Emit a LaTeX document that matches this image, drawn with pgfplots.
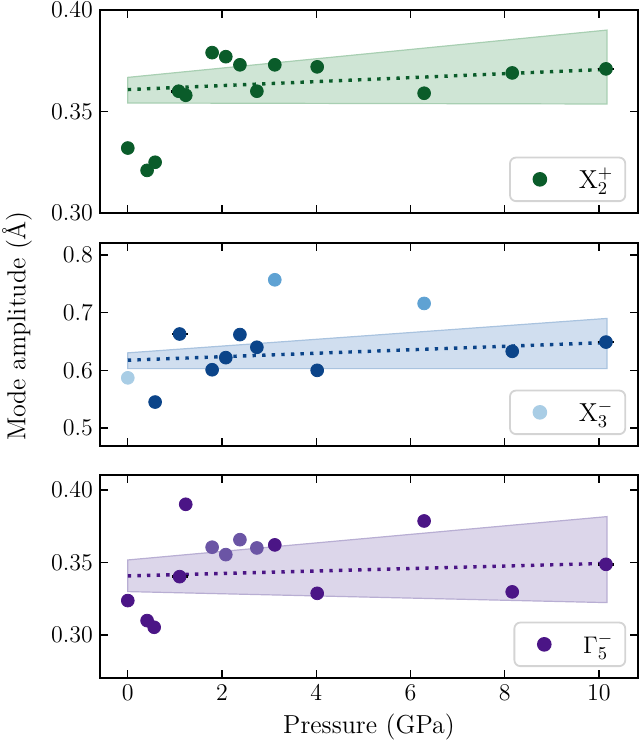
\documentclass[border=0pt]{standalone}
\usepackage{pgfplots}
\pgfplotsset{compat=1.18}
\definecolor{gdark}{HTML}{0A5C2A}
\definecolor{gfill}{HTML}{CFE5D5}
\definecolor{gedge}{HTML}{A8CFB2}
\definecolor{bdark}{HTML}{0B4489}
\definecolor{bmed}{HTML}{5FA2D3}
\definecolor{blight}{HTML}{A9CDE5}
\definecolor{bfill}{HTML}{D0DEEF}
\definecolor{bedge}{HTML}{A9C3DF}
\definecolor{pdark}{HTML}{4B1586}
\definecolor{pmed}{HTML}{6B55A5}
\definecolor{pfill}{HTML}{DCD6EA}
\definecolor{pedge}{HTML}{B8AED3}
\newcommand{\fs}{\fontsize{13}{15}\selectfont}
\pgfplotsset{
  panel/.style={
    at={(50pt,#1)}, anchor=north west,
    scale only axis, width=269pt, height=101.5pt,
    xmin=-0.59, xmax=10.83,
    xtick={0,2,...,10},
    tick align=inside, xtick pos=both, ytick pos=both,
    major tick length=4pt,
    every tick/.style={black, line width=0.7pt},
    axis line style={line width=0.8pt},
    tick label style={font=\fs},
    label style={font=\fs},
    legend style={at={(rel axis cs:0.978,0.054)}, anchor=south east,
      draw=black!17, line width=0.9pt, rounded corners=3pt, fill=white,
      inner xsep=4pt, inner ysep=3pt, font=\fs,
      nodes={inner sep=2pt}},
    legend image code/.code={\path (0pt,0pt) (27.5pt,0pt);
      \draw[##1] plot coordinates {(10.5pt,0pt)};},
  },
  mk/.style={only marks, mark=*, mark size=3.2pt, draw=#1, fill=#1, mark options={draw=#1, fill=#1}},
  fit/.style={#1, line width=1.7pt, dash pattern=on 1.7pt off 3.1pt},
  band/.style={fill=#1fill, draw=#1edge, line width=0.6pt},
  eb/.style={only marks, mark=none, forget plot, error bars/.cd, x dir=both, x explicit, error mark=none,
     error bar style={black, line width=1.3pt}},
}
\begin{document}
\begin{tikzpicture}
\useasboundingbox (0,0) rectangle (320pt,-372pt);
% ---------- panel 1
\begin{axis}[panel=-5pt, ymin=0.30, ymax=0.40, ytick={0.30,0.35,0.40},
  xticklabels={},
  yticklabel style={/pgf/number format/.cd, fixed, fixed zerofill, precision=2}]
\addlegendimage{mk=gdark}
\addlegendentry{X$_2^+$}
\addplot[band=g, forget plot] coordinates {(0,0.3542) (10.17,0.3537) (10.17,0.3901) (0,0.3668)} -- cycle;
\addplot[fit=gdark, forget plot] coordinates {(0,0.3608) (10.2,0.3708)};
\addplot[eb] coordinates {(1.08,0.360) +- (0.17,0) (10.15,0.371) +- (0.17,0)};
\addplot[mk=gdark, forget plot] coordinates {
(0,0.332) (0.41,0.321) (0.58,0.325) (1.08,0.360) (1.23,0.358) (1.79,0.379) (2.08,0.377)
(2.38,0.373) (2.74,0.360) (3.12,0.373) (4.02,0.372) (6.29,0.359) (8.16,0.369) (10.15,0.371)};
\end{axis}
% ---------- panel 2
\begin{axis}[panel=-121.5pt, ymin=0.4688, ymax=0.8208, ytick={0.5,0.6,0.7,0.8},
  xticklabels={},
  yticklabel style={/pgf/number format/.cd, fixed, fixed zerofill, precision=1}]
\addlegendimage{mk=blight}
\addlegendentry{X$_3^-$}
\addplot[band=b, forget plot] coordinates {(0,0.603) (10.17,0.603) (10.17,0.690) (0,0.6303)} -- cycle;
\addplot[fit=bdark, forget plot] coordinates {(0,0.6176) (10.2,0.6483)};
\addplot[eb] coordinates {(1.10,0.663) +- (0.17,0) (10.15,0.649) +- (0.17,0)};
\addplot[mk=blight, forget plot] coordinates {(0,0.587)};
\addplot[mk=bmed, forget plot] coordinates {(3.12,0.757) (6.29,0.716)};
\addplot[mk=bdark, forget plot] coordinates {
(0.58,0.545) (1.10,0.663) (1.79,0.601) (2.08,0.622) (2.38,0.662) (2.74,0.640)
(4.02,0.600) (8.16,0.633) (10.15,0.649)};
\end{axis}
% ---------- panel 3
\begin{axis}[panel=-237.5pt, ymin=0.2703, ymax=0.4103, ytick={0.30,0.35,0.40},
  xlabel={Pressure (GPa)},
  yticklabel style={/pgf/number format/.cd, fixed, fixed zerofill, precision=2}]
\addlegendimage{mk=pdark}
\addlegendentry{$\Gamma_5^-$}
\addplot[band=p, forget plot] coordinates {(0,0.3299) (10.17,0.3223) (10.17,0.3816) (0,0.3517)} -- cycle;
\addplot[fit=pdark, forget plot] coordinates {(0,0.3407) (10.2,0.3494)};
\addplot[eb] coordinates {(1.10,0.3402) +- (0.17,0) (10.15,0.3487) +- (0.17,0)};
\addplot[mk=pmed, forget plot] coordinates {(1.79,0.3605) (2.08,0.3554) (2.38,0.3657) (2.74,0.3600)};
\addplot[mk=pdark, forget plot] coordinates {
(0,0.3237) (0.41,0.3099) (0.56,0.3053) (1.10,0.3402) (1.23,0.3901) (3.12,0.3621)
(4.02,0.3287) (6.29,0.3786) (8.16,0.3297) (10.15,0.3487)};
\end{axis}
\node[rotate=90, font=\fs] at (8.5pt,-163pt) {Mode amplitude (Å)};
\end{tikzpicture}
\end{document}
